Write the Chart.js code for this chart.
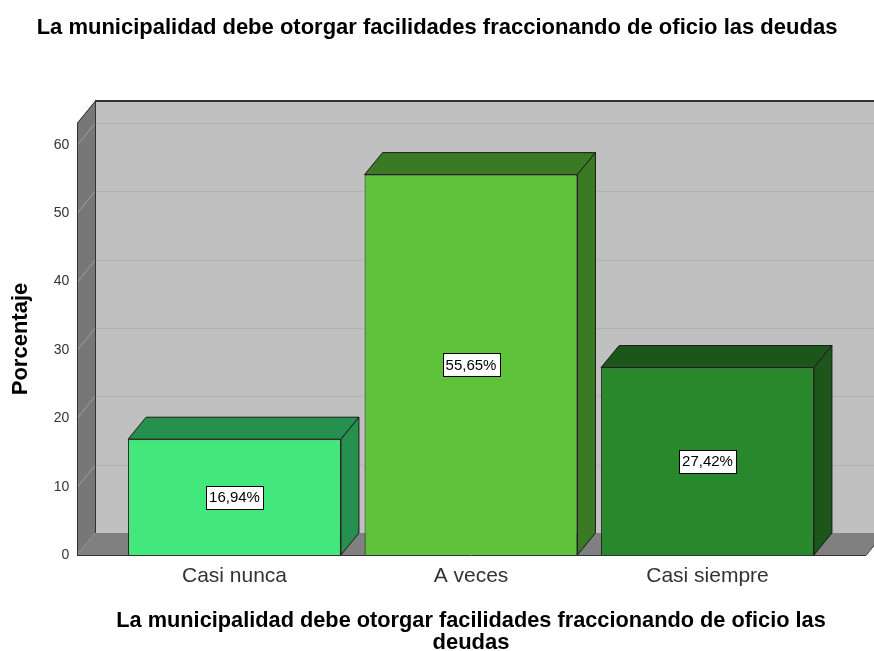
<!DOCTYPE html>
<html>
<head>
<meta charset="utf-8">
<script src="https://cdn.jsdelivr.net/npm/chart.js@4.4.1/dist/chart.umd.min.js"></script>
<style>
  html, body { margin: 0; padding: 0; background: #fff; }
  #chart { display: block; }
</style>
</head>
<body>
<canvas id="chart" width="874" height="651"></canvas>
<script>
// datos
var categorias = ['Casi nunca', 'A veces', 'Casi siempre'];
var porcentajes = [16.94, 55.65, 27.42];
var ticksY = [0, 10, 20, 30, 40, 50, 60];

var titulo = 'La municipalidad debe otorgar facilidades fraccionando de oficio las deudas';
var tituloX = ['La municipalidad debe otorgar facilidades fraccionando de oficio las', 'deudas'];

var frente = ['#42e87c', '#5ec33a', '#2a882c'];
var lado = ['#26904f', '#3a7a24', '#1c561b'];

var DX = 18, DY = 22;

// paredes, piso y grilla en 3D
var fondo3d = {
  id: 'fondo3d',
  beforeDatasetsDraw: function (chart) {
    var ctx = chart.ctx;
    var y = chart.scales.y;
    var y0 = y.getPixelForValue(0);
    var yTop = y.getPixelForValue(y.max);
    var xl = 77, xr = 866;
    ctx.save();
    // pared del fondo
    ctx.fillStyle = '#c0c0c0';
    ctx.fillRect(xl + DX, yTop - DY, 900, y0 - yTop);
    // pared izquierda
    ctx.fillStyle = '#777777';
    ctx.beginPath();
    ctx.moveTo(xl, y0);
    ctx.lineTo(xl + DX, y0 - DY);
    ctx.lineTo(xl + DX, yTop - DY);
    ctx.lineTo(xl, yTop);
    ctx.closePath();
    ctx.fill();
    // grilla
    ticksY.forEach(function (v) {
      var py = Math.round(y.getPixelForValue(v)) + 0.5;
      if (v > 0) {
        ctx.strokeStyle = '#b2b2b2';
        ctx.lineWidth = 1;
        ctx.beginPath();
        ctx.moveTo(xl + DX, py - DY);
        ctx.lineTo(900, py - DY);
        ctx.stroke();
      }
      ctx.strokeStyle = '#a0a0a0';
      ctx.beginPath();
      ctx.moveTo(xl, py);
      ctx.lineTo(xl + DX, py - DY);
      ctx.stroke();
    });
    // piso
    ctx.fillStyle = '#808080';
    ctx.beginPath();
    ctx.moveTo(xl, y0);
    ctx.lineTo(xl + DX, y0 - DY);
    ctx.lineTo(xr + DX, y0 - DY);
    ctx.lineTo(xr, y0);
    ctx.closePath();
    ctx.fill();
    // bordes
    ctx.strokeStyle = '#333333';
    ctx.lineWidth = 1;
    ctx.beginPath();
    ctx.moveTo(xl + 0.5, y0);
    ctx.lineTo(xl + 0.5, yTop);
    ctx.lineTo(xl + DX + 0.5, yTop - DY);
    ctx.lineTo(xl + DX + 0.5, y0 - DY);
    ctx.stroke();
    ctx.beginPath();
    ctx.moveTo(xl, y0 + 0.5);
    ctx.lineTo(xr, y0 + 0.5);
    ctx.lineTo(xr + DX, y0 - DY);
    ctx.stroke();
    ctx.lineWidth = 2;
    ctx.beginPath();
    ctx.moveTo(xl + DX, yTop - DY);
    ctx.lineTo(900, yTop - DY);
    ctx.stroke();
    ctx.restore();
  },
  afterDatasetsDraw: function (chart) {
    var ctx = chart.ctx;
    var meta = chart.getDatasetMeta(0);
    ctx.save();
    ctx.strokeStyle = '#1a1a1a';
    ctx.lineWidth = 1;
    meta.data.forEach(function (bar, i) {
      var l = bar.x - bar.width / 2, r = bar.x + bar.width / 2;
      var t = bar.y, b = bar.base;
      ctx.fillStyle = lado[i];
      ctx.beginPath();
      ctx.moveTo(l, t);
      ctx.lineTo(l + DX, t - DY);
      ctx.lineTo(r + DX, t - DY);
      ctx.lineTo(r, t);
      ctx.closePath();
      ctx.fill();
      ctx.stroke();
      ctx.beginPath();
      ctx.moveTo(r, t);
      ctx.lineTo(r + DX, t - DY);
      ctx.lineTo(r + DX, b - DY);
      ctx.lineTo(r, b);
      ctx.closePath();
      ctx.fill();
      ctx.stroke();
      // etiqueta
      var txt = porcentajes[i].toFixed(2).replace('.', ',') + '%';
      ctx.font = '15px Arial, "Liberation Sans"';
      var w = ctx.measureText(txt).width;
      var cy = (t + b) / 2;
      ctx.fillStyle = '#ffffff';
      ctx.fillRect(Math.round(bar.x - w / 2 - 3) + 0.5, Math.round(cy - 11.5) + 0.5, Math.round(w + 6), 23);
      ctx.strokeStyle = '#000000';
      ctx.strokeRect(Math.round(bar.x - w / 2 - 3) + 0.5, Math.round(cy - 11.5) + 0.5, Math.round(w + 6), 23);
      ctx.fillStyle = '#000000';
      ctx.textAlign = 'center';
      ctx.textBaseline = 'middle';
      ctx.fillText(txt, bar.x, cy + 1);
      ctx.strokeStyle = '#1a1a1a';
    });
    ctx.restore();
  },
  afterDraw: function (chart) {
    // titulo centrado en todo el lienzo
    var ctx = chart.ctx;
    ctx.save();
    ctx.font = 'bold 22px Arial, "Liberation Sans"';
    ctx.fillStyle = '#000';
    ctx.textAlign = 'center';
    ctx.textBaseline = 'middle';
    ctx.fillText(titulo, chart.width / 2, 28);
    ctx.restore();
  }
};

var chart = new Chart(document.getElementById('chart'), {
  type: 'bar',
  data: {
    labels: categorias,
    datasets: [{
      data: porcentajes,
      backgroundColor: frente,
      borderColor: '#1a1a1a',
      borderWidth: 1,
      barPercentage: 0.9,
      categoryPercentage: 1
    }]
  },
  plugins: [fondo3d],
  options: {
    responsive: false,
    animation: false,
    layout: { padding: { left: 0, right: 48.25, top: 123, bottom: 0 } },
    plugins: {
      legend: { display: false },
      tooltip: { enabled: false },
      title: { display: false }
    },
    scales: {
      x: {
        grid: { display: false, drawTicks: false },
        border: { display: false },
        ticks: { color: '#333', padding: 9, font: { family: 'Arial, "Liberation Sans"', size: 21 } },
        title: {
          display: true,
          text: tituloX,
          color: '#000',
          font: { family: 'Arial, "Liberation Sans"', size: 22, weight: 'bold', lineHeight: 1.0 },
          padding: { top: 0, bottom: -3 }
        },
        afterFit: function (s) { s.height = 96; }
      },
      y: {
        min: 0,
        max: 63.2,
        afterBuildTicks: function (s) { s.ticks = ticksY.map(function (v) { return { value: v }; }); },
        grid: { display: false, drawTicks: false },
        border: { display: false },
        ticks: { color: '#333', padding: 47, font: { family: 'Arial, "Liberation Sans"', size: 14 } },
        title: {
          display: true,
          text: 'Porcentaje',
          color: '#000',
          font: { family: 'Arial, "Liberation Sans"', size: 22, weight: 'bold', lineHeight: 1.2 },
          padding: { top: 8, bottom: 0 }
        },
        afterFit: function (s) { s.width = 116.25; }
      }
    }
  }
});
</script>
</body>
</html>
